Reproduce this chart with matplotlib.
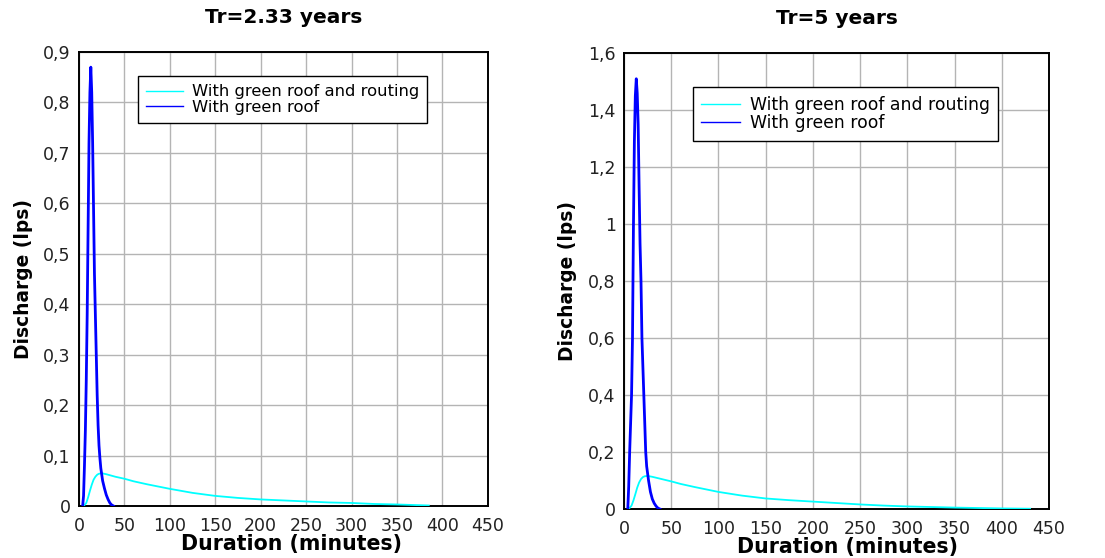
import matplotlib
matplotlib.use("Agg")
import matplotlib.pyplot as plt
from matplotlib.ticker import FuncFormatter, MultipleLocator

plt.rcParams['font.family'] = ['DejaVu Sans']

# ── DATA ──────────────────────────────────────────────────────────────────────
# Tr = 2.33 years
roof_t_233 = [4, 5, 6, 7, 8, 9, 10, 11, 12, 13, 14, 15, 16, 17, 18, 19, 20, 21,
              22, 23, 24, 26, 28, 30, 32, 34, 36, 38]
roof_q_233 = [0, 0.02, 0.08, 0.15, 0.25, 0.38, 0.55, 0.72, 0.82, 0.87, 0.82, 0.72,
              0.59, 0.46, 0.38, 0.30, 0.22, 0.16, 0.12, 0.095, 0.075, 0.05, 0.035,
              0.022, 0.013, 0.006, 0.002, 0]
rout_t_233 = [5, 8, 10, 12, 14, 16, 18, 20, 22, 25, 30, 40, 50, 60, 75, 100, 125,
              150, 175, 200, 225, 250, 275, 300, 325, 350, 385]
rout_q_233 = [0, 0.006, 0.017, 0.030, 0.042, 0.052, 0.058, 0.062, 0.064, 0.065,
              0.063, 0.058, 0.054, 0.049, 0.043, 0.034, 0.026, 0.020, 0.016, 0.013,
              0.011, 0.009, 0.007, 0.006, 0.004, 0.003, 0.001]

# Tr = 5 years
roof_t_5 = [4, 5, 6, 7, 8, 9, 10, 11, 12, 13, 14, 15, 16, 17, 18, 19, 20, 21, 22,
            23, 24, 26, 28, 30, 32, 34, 36, 38]
roof_q_5 = [0, 0.08, 0.2, 0.3, 0.4, 0.6, 0.99, 1.29, 1.45, 1.51, 1.46, 1.35, 1.13,
            0.93, 0.8, 0.6, 0.5, 0.4, 0.3, 0.2, 0.15, 0.1, 0.06, 0.035, 0.02, 0.01,
            0.003, 0]
rout_t_5 = [5, 8, 10, 12, 14, 16, 18, 20, 22, 25, 30, 40, 50, 60, 75, 100, 125, 150,
            175, 200, 225, 250, 275, 300, 350, 400, 430]
rout_q_5 = [0, 0.012, 0.03, 0.052, 0.075, 0.093, 0.105, 0.112, 0.115, 0.116, 0.113,
            0.105, 0.097, 0.088, 0.077, 0.060, 0.047, 0.037, 0.031, 0.026, 0.021,
            0.016, 0.012, 0.009, 0.005, 0.002, 0.001]

TITLES = ["Tr=2.33 years", "Tr=5 years"]
LABELS = ["With green roof and routing", "With green roof"]
YMAX   = [0.9, 1.6]
YSTEP  = [0.1, 0.2]
LEG_AT = [(0.144, 0.947), (0.162, 0.925)]
LEG_FS = [11.8, 12.4]


def comma_fmt(v, pos):
    return ("%g" % round(v, 3)).replace(".", ",")


fig = plt.figure(figsize=(11.05, 5.58), dpi=100)
axes = [fig.add_axes([0.0715, 0.0932, 0.370, 0.8136]),
        fig.add_axes([0.5647, 0.0878, 0.3846, 0.817])]
series = [(rout_t_233, rout_q_233, roof_t_233, roof_q_233),
          (rout_t_5, rout_q_5, roof_t_5, roof_q_5)]

for i, ax in enumerate(axes):
    rt, rq, gt, gq = series[i]
    ax.plot(rt, rq, color="#00ffff", linewidth=1.3, label=LABELS[0], zorder=3)
    ax.plot(gt, gq, color="#0000ff", linewidth=2.0, label=LABELS[1], zorder=4)

    ax.set_xlim(0, 450)
    ax.set_ylim(0, YMAX[i])
    ax.xaxis.set_major_locator(MultipleLocator(50))
    ax.yaxis.set_major_locator(MultipleLocator(YSTEP[i]))
    ax.yaxis.set_major_formatter(FuncFormatter(comma_fmt))
    ax.tick_params(length=0, labelsize=12.5, colors="#222222")
    ax.tick_params(axis="x", pad=8)
    ax.tick_params(axis="y", pad=6)
    ax.grid(True, color="#b4b4b4", linewidth=1.0)
    for sp in ax.spines.values():
        sp.set_color("black")
        sp.set_linewidth(1.4)

    ax.set_title(TITLES[i], fontsize=14.5, fontweight="bold", pad=21)
    ax.set_xlabel("Duration (minutes)", fontsize=14.8, fontweight="bold")
    ax.set_ylabel("Discharge (lps)", fontsize=13.4, fontweight="bold")

    leg = ax.legend(loc="upper left", bbox_to_anchor=LEG_AT[i],
                    fontsize=LEG_FS[i], fancybox=False, framealpha=1, edgecolor="black",
                    borderpad=0.5, handlelength=2.25, handletextpad=0.55,
                    labelspacing=0.02, borderaxespad=0)
    leg.get_frame().set_linewidth(1.0)
    for ln in leg.get_lines():
        ln.set_linewidth(1.0)

axes[0].yaxis.set_label_coords(-0.112, 0.5)
axes[1].yaxis.set_label_coords(-0.110, 0.5)
axes[0].xaxis.set_label_coords(0.52, -0.062)
axes[1].xaxis.set_label_coords(0.525, -0.062)

fig.savefig("out.png", dpi=100)
